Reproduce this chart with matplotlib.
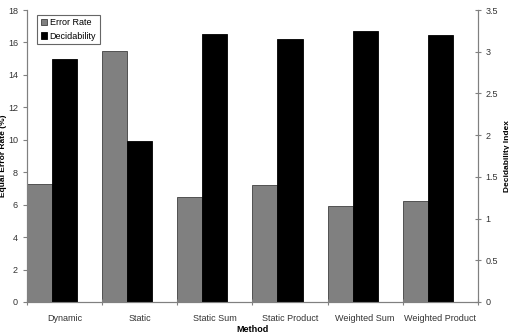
import numpy as np
import matplotlib.pyplot as plt

plt.rcParams['font.family'] = ['Liberation Sans', 'DejaVu Sans']

# data
methods = ['Dynamic', 'Static', 'Static Sum', 'Static Product', 'Weighted Sum', 'Weighted Product']
error_rate = [7.3, 15.5, 6.5, 7.2, 5.9, 6.2]
decidability = [2.91, 1.93, 3.21, 3.15, 3.25, 3.20]

fig = plt.figure(figsize=(5.1, 3.34), dpi=100)
ax = fig.add_axes([0.053, 0.096, 0.884, 0.874])
ax2 = ax.twinx()

x = np.arange(len(methods))
w = 1 / 3
b1 = ax.bar(x, error_rate, width=w, align='edge', color='#808080',
            edgecolor='#404040', linewidth=0.6, label='Error Rate')
b2 = ax2.bar(x + w, decidability, width=w, align='edge', color='black',
             edgecolor='black', linewidth=0.6, label='Decidability')

ax.set_xlim(0, len(methods))
ax.set_ylim(0, 18)
ax2.set_ylim(0, 3.5)
ax.set_yticks(range(0, 19, 2))
ax2.set_yticks(np.arange(0, 3.51, 0.5))
ax2.set_yticklabels(['0', '0.5', '1', '1.5', '2', '2.5', '3', '3.5'])

# category labels in middle of group, ticks on the group boundaries
ax.set_xticks(np.arange(len(methods) + 1))
ax.set_xticklabels([])
ax.set_xticks(x + 0.5, minor=True)
ax.set_xticklabels(methods, minor=True)
ax.tick_params(axis='x', which='minor', length=0, labelsize=6.5, colors='#333333', pad=9)
ax.tick_params(axis='x', which='major', length=4, direction='inout', color='#808080')
ax.tick_params(axis='y', labelsize=6.5, colors='#333333', length=3, direction='out')
ax.tick_params(axis='y', color='#808080')
ax2.tick_params(axis='y', labelsize=6.5, labelcolor='#333333', length=4,
                direction='inout', color='#808080')

for a in (ax, ax2):
    a.spines['top'].set_visible(False)
    for s in ('left', 'right', 'bottom'):
        a.spines[s].set_color('#808080')
        a.spines[s].set_linewidth(0.8)

ax.set_ylabel('Equal Error Rate (%)', fontsize=6, fontweight='bold')
ax.yaxis.set_label_coords(-0.045, 0.5)
ax2.set_ylabel('Decidability Index', fontsize=6, fontweight='bold')
ax2.yaxis.set_label_coords(1.058, 0.5)
ax.set_xlabel('Method', fontsize=6.5, fontweight='bold', labelpad=1)

leg = ax.legend(handles=[b1, b2], loc='upper left', bbox_to_anchor=(0.012, 1.0),
                fontsize=6.5, frameon=True, fancybox=False, handlelength=0.7,
                handleheight=0.7, handletextpad=0.3, borderpad=0.4, labelspacing=0.5)
leg.get_frame().set_edgecolor('#404040')
leg.get_frame().set_linewidth(0.8)

fig.savefig('out.png', dpi=100)
